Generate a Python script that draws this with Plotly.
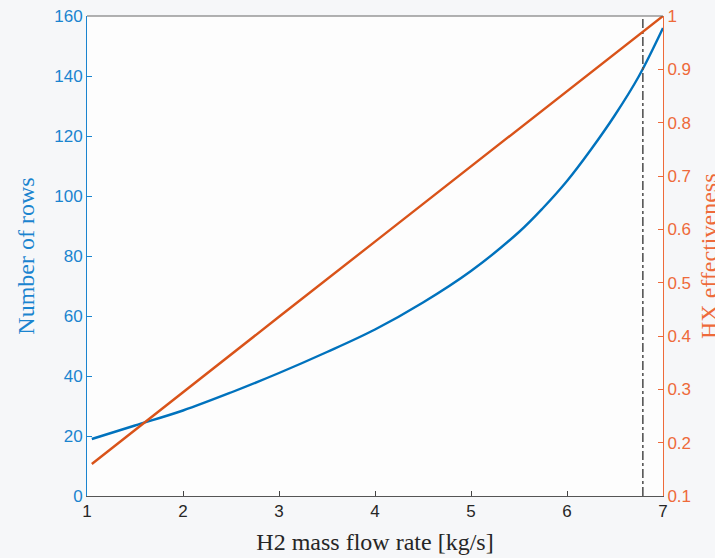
import plotly.graph_objects as go

# ---- data ----
flow_rows = [1.05, 1.5, 2.0, 2.5, 3.0, 3.5, 4.0, 4.5, 5.0, 5.5, 5.75, 6.0, 6.25, 6.5, 6.75, 7.0]
rows = [19, 23.5, 28.5, 34.5, 41, 48, 55.5, 64.5, 75, 88, 96, 105, 115.5, 127, 140, 156]

flow_eff = [1.05, 2.0, 3.0, 4.0, 5.0, 6.0, 7.0]
effectiveness = [0.16, 0.295, 0.436, 0.577, 0.718, 0.859, 1.0]

design_flow = 6.79

x_ticks = [1, 2, 3, 4, 5, 6, 7]
left_ticks = [0, 20, 40, 60, 80, 100, 120, 140, 160]
right_ticks = [0.1, 0.2, 0.3, 0.4, 0.5, 0.6, 0.7, 0.8, 0.9, 1.0]
right_labels = ["0.1", "0.2", "0.3", "0.4", "0.5", "0.6", "0.7", "0.8", "0.9", "1"]

BLUE = "#0072BD"
BLUE_TXT = "#1a84cf"
ORANGE = "#D95319"
ORANGE_TXT = "#EE6A3A"
TICKFONT = "Liberation Sans"
SERIF = "Liberation Serif"

fig = go.Figure()
fig.add_trace(go.Scatter(x=flow_rows, y=rows, mode="lines",
                         line=dict(color=BLUE, width=2.4, shape="spline", smoothing=1.0),
                         yaxis="y", showlegend=False))
fig.add_trace(go.Scatter(x=flow_eff, y=effectiveness, mode="lines", line=dict(color=ORANGE, width=2.4),
                         yaxis="y2", showlegend=False))
fig.add_trace(go.Scatter(x=[design_flow, design_flow], y=[0, 160], mode="lines",
                         line=dict(color="#555555", width=1.6, dash="dashdot"), yaxis="y", showlegend=False))

fig.update_layout(
    width=715, height=558,
    margin=dict(l=87, r=52, t=16, b=62),
    paper_bgcolor="#f6f7f9",
    plot_bgcolor="#fdfdfd",
    xaxis=dict(range=[1, 7], tickvals=x_ticks, ticks="inside", ticklen=5, tickcolor="#444",
               showline=True, linecolor="#555", linewidth=1, showgrid=False, zeroline=False,
               automargin=False,
               tickfont=dict(family=TICKFONT, size=17, color="#262626"),
               title=dict(text="H2 mass flow rate [kg/s]", font=dict(family=SERIF, size=24, color="#262626"),
                          standoff=12)),
    yaxis=dict(range=[0, 160], tickvals=left_ticks, ticks="inside", ticklen=5, tickcolor=BLUE_TXT,
               showline=True, linecolor=BLUE_TXT, linewidth=1, showgrid=False, zeroline=False,
               automargin=False,
               tickfont=dict(family=TICKFONT, size=17, color=BLUE_TXT),
               title=dict(text="Number of rows", font=dict(family=SERIF, size=24, color=BLUE_TXT), standoff=12)),
    yaxis2=dict(range=[0.1, 1.0], tickvals=right_ticks, ticktext=right_labels,
                overlaying="y", side="right", ticks="inside", ticklen=5, tickcolor=ORANGE_TXT,
                showline=True, linecolor=ORANGE_TXT, linewidth=1, showgrid=False, zeroline=False,
                automargin=False,
                tickfont=dict(family=TICKFONT, size=17, color=ORANGE_TXT)),
    shapes=[dict(type="line", xref="paper", yref="paper", x0=0, x1=1, y0=1, y1=1,
                 line=dict(color="#666", width=1))],
    annotations=[dict(text="HX effectiveness", textangle=-90, xref="paper", yref="paper",
                      x=1, y=0.5, xshift=31, xanchor="left", yanchor="middle", showarrow=False,
                      font=dict(family=SERIF, size=24, color=ORANGE_TXT))],
)

fig.write_html("out.html")
